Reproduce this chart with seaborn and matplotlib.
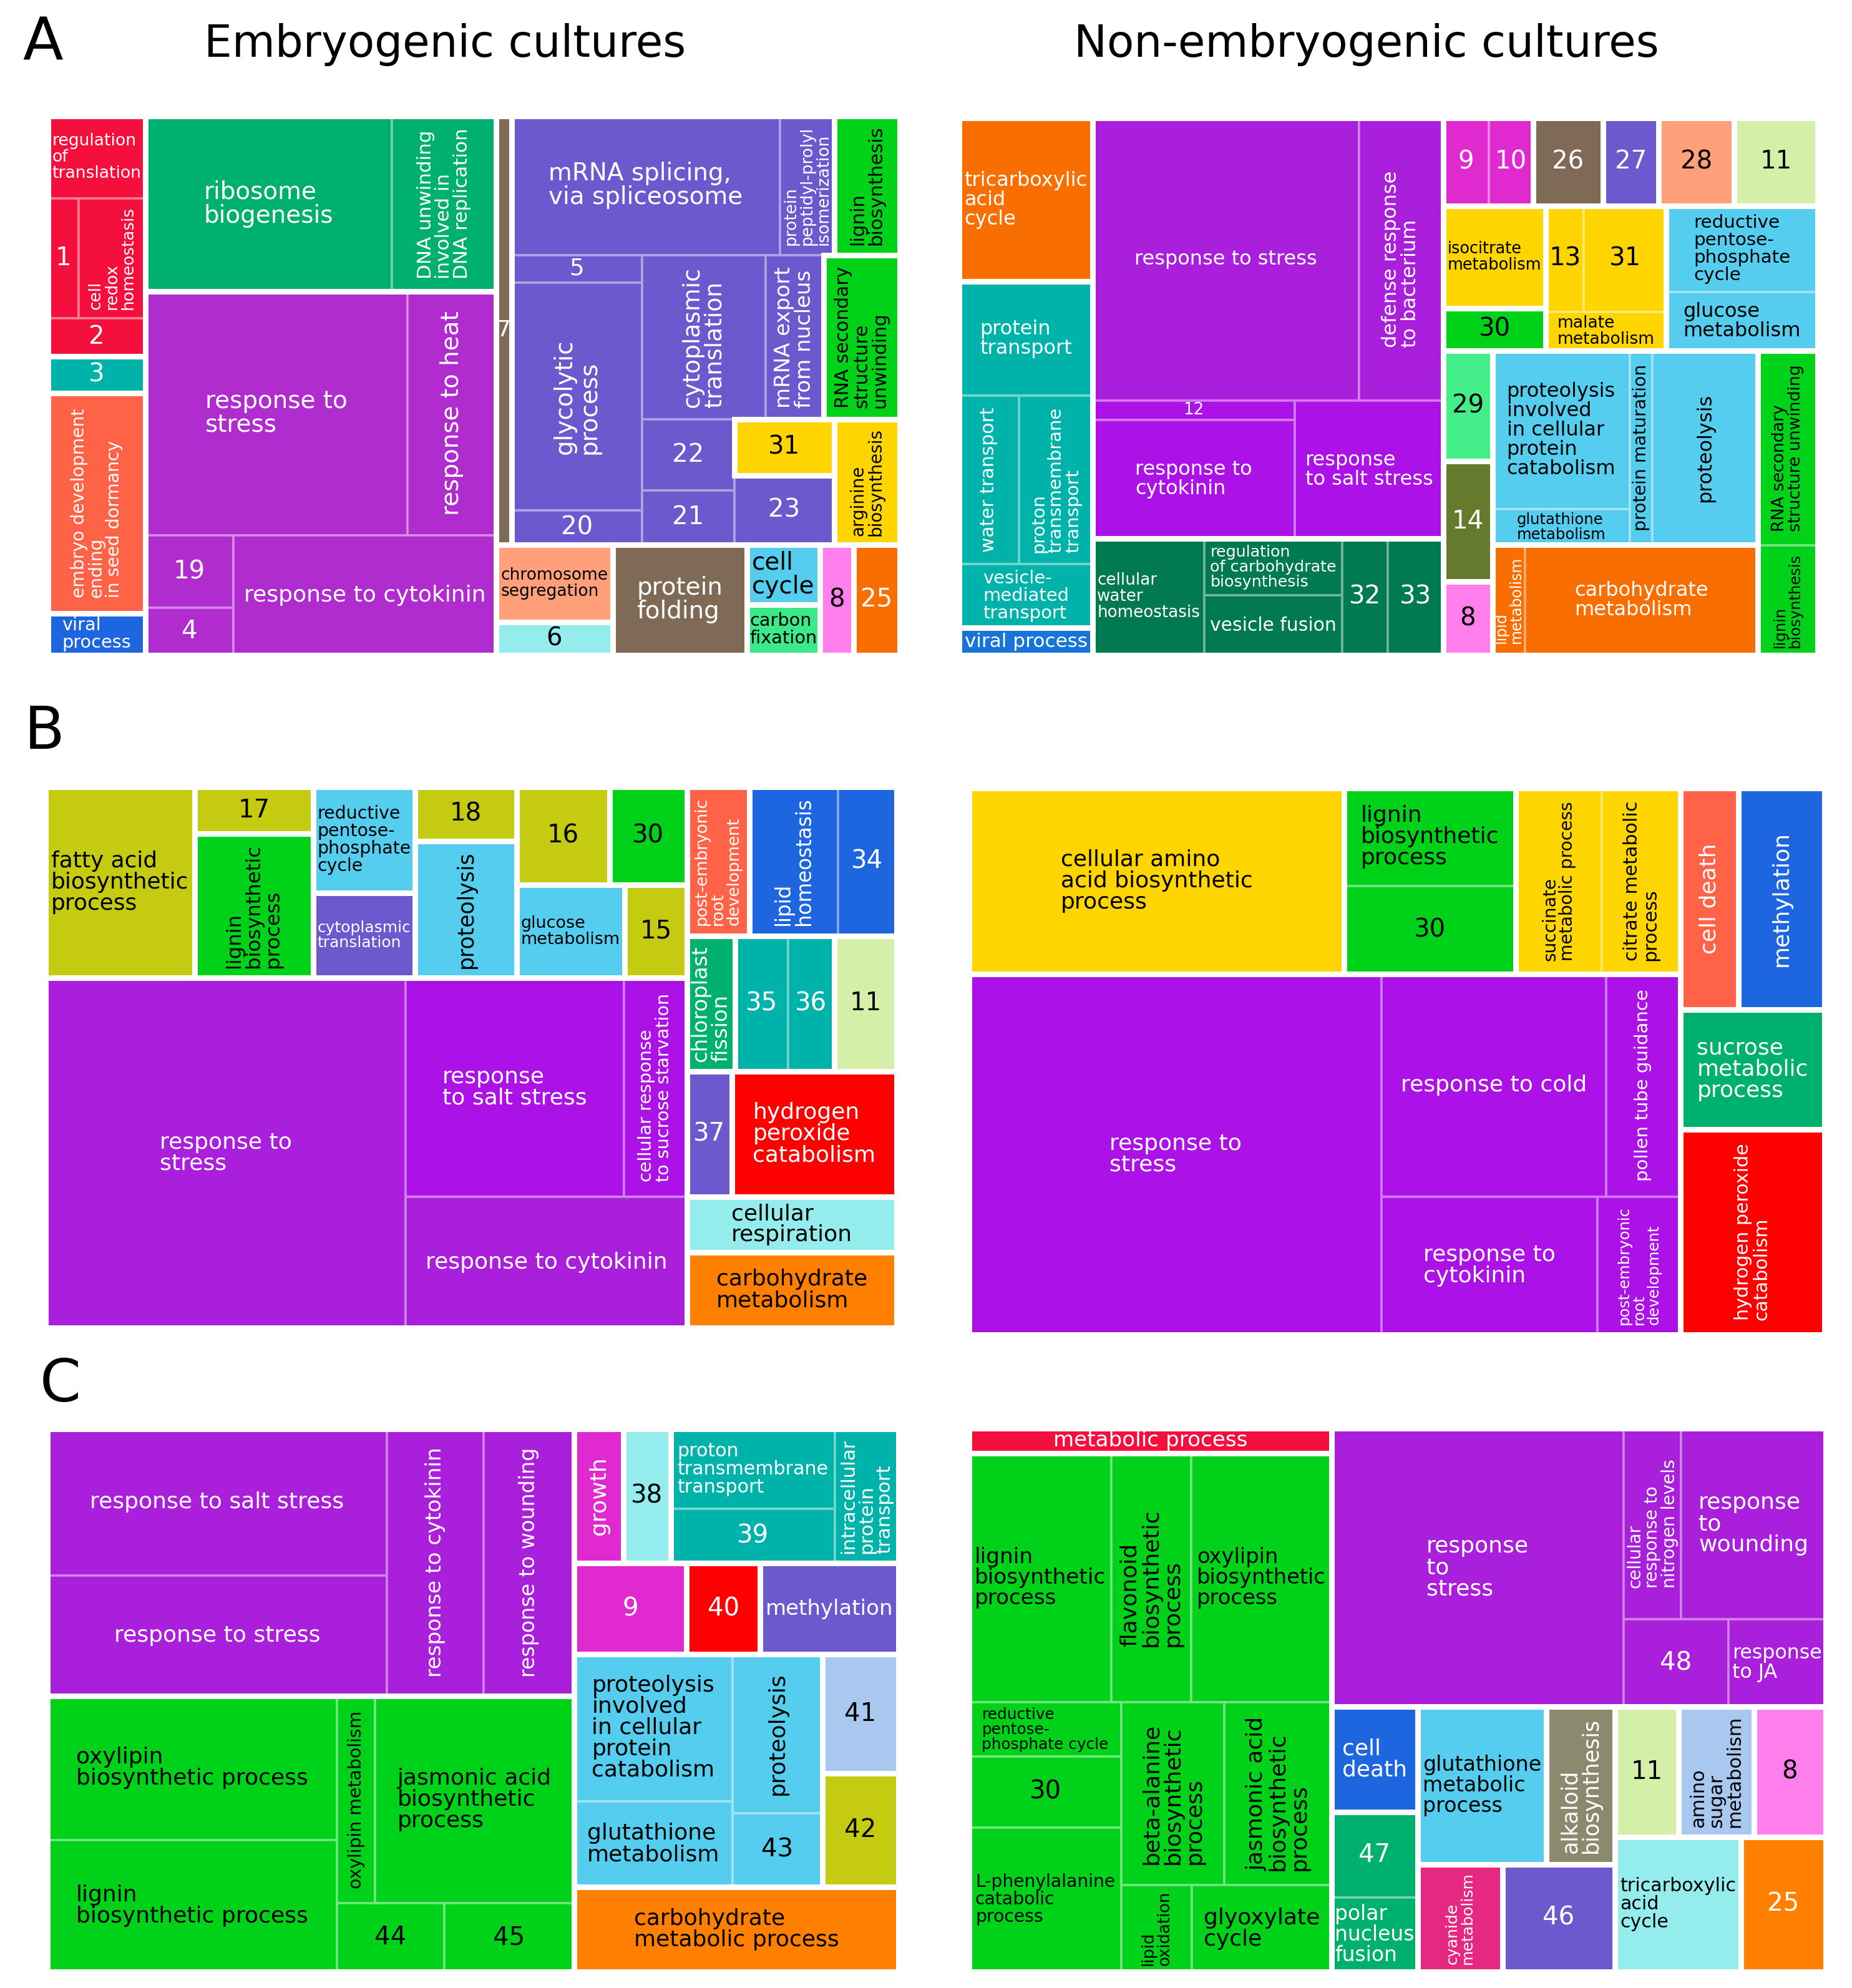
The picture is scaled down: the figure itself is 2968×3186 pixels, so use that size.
import matplotlib
matplotlib.use("Agg")
import matplotlib.pyplot as plt
from matplotlib.patches import Rectangle
from matplotlib.colors import to_rgb
import seaborn as sns

sns.set_theme(style="white")
plt.rcParams["font.family"] = ["DejaVu Sans"]

# ---------------- colours ----------------
RED = "#F50F3C"; TEAL = "#00B3AA"; TOMATO = "#FF6347"; BLUE = "#1E66E0"
SEAGREEN = "#00B06E"; PURPLE1 = "#B02CCE"; PURPLE2 = "#A91FDB"; PURPLE3 = "#AC12E8"
BROWN = "#7F6A55"; SLATE = "#6E58CE"; GREEN = "#00D21A"; YELLOW = "#FFD500"
SALMON = "#FFA07A"; CYAN = "#95ECEC"; LBLUE = "#55CDEE"; MINT = "#3BE88A"
PINK = "#FF80EC"; ORANGE = "#F86E00"; ORANGE2 = "#FF7F00"; DKGREEN = "#007A4E"
MAGENTA = "#E02AD0"; LGREEN = "#D4F0A8"; MINT2 = "#44EE88"; OLIVEDK = "#667A2E"
OLIVE = "#C4CB10"; PURE_RED = "#FF0000"; STEEL = "#A8C8F0"; GREYOL = "#8B8A6F"
CERISE = "#E52882"; VIRAL = "#1874D8"


def H(*c):
    return ("H", c)


def V(*c):
    return ("V", c)


def G(c):
    return ("G", c)


# ---------------- Panel A, embryogenic ----------------
A1_terms = ["regulation\nof\ntranslation", "1", "cell\nredox\nhomeostasis", "2", "3",
            "embryo development\nending\nin seed dormancy", "viral\nprocess",
            "ribosome\nbiogenesis", "DNA unwinding\ninvolved in\nDNA replication",
            "response to\nstress", "response to heat", "19", "4", "response to cytokinin",
            "7", "mRNA splicing,\nvia spliceosome", "protein\npeptidyl-prolyl\nisomerization",
            "lignin\nbiosynthesis", "5", "glycolytic\nprocess", "20", "cytoplasmic\ntranslation",
            "mRNA export\nfrom nucleus", "RNA secondary\nstructure\nunwinding", "22", "21", "31",
            "23", "arginine\nbiosynthesis", "chromosome\nsegregation", "6", "protein\nfolding",
            "cell\ncycle", "carbon\nfixation", "8", "25"]
A1_sizes = [20.6, 9.4, 20.5, 9.5, 9.2, 55.1, 10.5, 111.0, 46.9, 164.2, 55.5, 16.4, 10.7, 80.8,
            17.2, 95.9, 19.4, 23.4, 9.2, 76.3, 11.5, 52.1, 24.5, 32.1, 16.9, 12.9, 14.4, 17.8,
            21.1, 23.2, 9.9, 38.1, 11.2, 9.5, 9.6, 13.1]
A1_colors = [RED, RED, RED, RED, TEAL, TOMATO, BLUE, SEAGREEN, SEAGREEN, PURPLE1, PURPLE1,
             PURPLE1, PURPLE1, PURPLE1, BROWN, SLATE, SLATE, GREEN, SLATE, SLATE, SLATE, SLATE,
             SLATE, GREEN, SLATE, SLATE, YELLOW, SLATE, YELLOW, SALMON, CYAN, BROWN, LBLUE,
             MINT, PINK, ORANGE]
A1_tree = H(
    V(G(V(0, H(1, 2), 3)), G(4), G(5), G(6)),
    V(G(H(7, 8)), G(V(H(9, 10), H(V(11, 12), 13)))),
    V(H(G(14), V(H(15, 16, G(17)),
                 H(V(18, 19, 20),
                   V(H(21, 22, G(23)), H(V(24, 25), V(G(26), 27), G(28)))))),
      H(V(G(29), G(30)), G(31), V(G(32), G(33)), G(34), G(35))))
A1_vertical = {2, 5, 8, 10, 16, 17, 19, 21, 22, 23, 28}

# ---------------- Panel A, non-embryogenic ----------------
A2_terms = ["tricarboxylic\nacid\ncycle", "protein\ntransport", "water transport",
            "proton\ntransmembrane\ntransport", "vesicle-\nmediated\ntransport", "viral process",
            "response to stress", "defense response\nto bacterium", "12", "response to\ncytokinin",
            "response\nto salt stress", "cellular\nwater\nhomeostasis",
            "regulation\nof carbohydrate\nbiosynthesis", "vesicle fusion", "32", "33",
            "9", "10", "26", "27", "28", "11", "isocitrate\nmetabolism", "30", "13", "31",
            "malate\nmetabolism", "reductive\npentose-\nphosphate\ncycle", "glucose\nmetabolism",
            "29", "14", "8", "proteolysis\ninvolved\nin cellular\nprotein\ncatabolism",
            "glutathione\nmetabolism", "protein maturation", "proteolysis", "lipid\nmetabolism",
            "carbohydrate\nmetabolism", "RNA secondary\nstructure unwinding", "lignin\nbiosynthesis"]
A2_sizes = [56.1, 39.2, 25.9, 31.9, 21.8, 9.4, 193.4, 61.2, 10.0, 61.6, 52.6, 33.5, 20.1, 21.2,
            13.7, 16.6, 10.3, 10.0, 15.8, 12.5, 17.1, 18.9, 26.9, 11.2, 10.4, 22.4, 12.0, 33.5,
            22.8, 14.0, 15.2, 9.3, 55.9, 12.5, 11.2, 52.6, 9.2, 66.0, 30.0, 16.9]
A2_colors = [ORANGE, TEAL, TEAL, TEAL, TEAL, VIRAL, PURPLE2, PURPLE2, PURPLE3, PURPLE3, PURPLE3,
             DKGREEN, DKGREEN, DKGREEN, DKGREEN, DKGREEN, MAGENTA, MAGENTA, BROWN, SLATE, SALMON,
             LGREEN, YELLOW, GREEN, YELLOW, YELLOW, YELLOW, LBLUE, LBLUE, MINT2, OLIVEDK, PINK,
             LBLUE, LBLUE, LBLUE, LBLUE, ORANGE, ORANGE, GREEN, GREEN]
A2_tree = H(
    V(G(0), G(V(1, H(2, 3), 4)), G(5)),
    V(G(V(H(6, 7), H(V(8, 9), 10))), G(H(11, V(12, 13), 14, 15))),
    V(H(G(H(16, 17)), G(18), G(19), G(20), G(21)),
      H(V(G(22), G(23)), G(V(H(24, 25), 26)), G(V(27, 28))),
      H(V(G(29), G(30), G(31)),
        V(G(H(V(32, 33), 34, 35)), G(H(36, 37))),
        G(V(38, 39)))))
A2_vertical = {2, 3, 7, 34, 35, 36, 38, 39}

# ---------------- Panel B, left ----------------
B1_terms = ["fatty acid\nbiosynthetic\nprocess", "17", "lignin\nbiosynthetic\nprocess",
            "reductive\npentose-\nphosphate\ncycle", "cytoplasmic\ntranslation", "18",
            "proteolysis", "16", "30", "glucose\nmetabolism", "15", "response to\nstress",
            "response\nto salt stress", "cellular response\nto sucrose starvation",
            "response to cytokinin", "post-embryonic\nroot\ndevelopment", "lipid\nhomeostasis",
            "34", "chloroplast\nfission", "35", "36", "11", "37",
            "hydrogen\nperoxide\ncatabolism", "cellular\nrespiration", "carbohydrate\nmetabolism"]
B1_sizes = [73.1, 14.3, 43.9, 27.7, 22.2, 14.2, 35.7, 23.4, 19.5, 25.8, 14.9, 323.7, 122.9,
            35.5, 94.7, 23.9, 33.9, 22.5, 16.7, 18.4, 16.1, 21.7, 14.5, 53.1, 29.9, 40.7]
B1_colors = [OLIVE, OLIVE, GREEN, LBLUE, SLATE, OLIVE, LBLUE, OLIVE, GREEN, LBLUE, OLIVE,
             PURPLE2, PURPLE3, PURPLE3, PURPLE2, TOMATO, BLUE, BLUE, SEAGREEN, TEAL, TEAL,
             LGREEN, SLATE, PURE_RED, CYAN, ORANGE2]
B1_tree = H(
    V(H(G(0), V(G(1), G(2)), V(G(3), G(4)), V(G(5), G(6)),
        V(H(G(7), G(8)), H(G(9), G(10)))),
      G(H(11, V(H(12, 13), 14)))),
    V(H(G(15), G(H(16, 17))), H(G(18), G(H(19, 20)), G(21)), H(G(22), G(23)), G(24), G(25)))
B1_vertical = {2, 6, 13, 15, 16, 18}

# ---------------- Panel B, right ----------------
B2_terms = ["cellular amino\nacid biosynthetic\nprocess", "lignin\nbiosynthetic\nprocess", "30",
            "succinate\nmetabolic process", "citrate metabolic\nprocess", "response to\nstress",
            "response to cold", "pollen tube guidance", "response to\ncytokinin",
            "post-embryonic\nroot\ndevelopment", "cell death", "methylation",
            "sucrose\nmetabolic\nprocess", "hydrogen peroxide\ncatabolism"]
B2_sizes = [179.1, 43.2, 38.8, 41.1, 37.5, 382.1, 128.5, 42.5, 76.5, 29.4, 33.0, 49.0, 44.4, 76.0]
B2_colors = [YELLOW, GREEN, GREEN, YELLOW, YELLOW, PURPLE3, PURPLE3, PURPLE3, PURPLE3, PURPLE3,
             TOMATO, BLUE, SEAGREEN, PURE_RED]
B2_tree = H(
    V(H(G(0), G(V(1, 2)), G(H(3, 4))), G(H(5, V(H(6, 7), H(8, 9))))),
    V(H(G(10), G(11)), G(12), G(13)))
B2_vertical = {3, 4, 7, 9, 10, 11, 13}

# ---------------- Panel C, left ----------------
C1_terms = ["response to salt stress", "response to stress", "response to cytokinin",
            "response to wounding", "oxylipin\nbiosynthetic process",
            "lignin\nbiosynthetic process", "oxylipin metabolism",
            "jasmonic acid\nbiosynthetic\nprocess", "44", "45", "growth", "38",
            "proton\ntransmembrane\ntransport", "39", "intracellular\nprotein\ntransport",
            "9", "40", "methylation", "proteolysis\ninvolved\nin cellular\nprotein\ncatabolism",
            "glutathione\nmetabolism", "proteolysis", "43", "41", "42",
            "carbohydrate\nmetabolic process"]
C1_sizes = [127.8, 105.0, 66.3, 62.1, 107.2, 97.9, 20.3, 105.9, 18.9, 22.9, 17.0, 16.3, 33.7,
            22.9, 21.9, 26.3, 17.2, 32.4, 59.9, 34.8, 36.7, 17.0, 23.3, 22.2, 70.7]
C1_colors = [PURPLE2, PURPLE2, PURPLE2, PURPLE2, GREEN, GREEN, GREEN, GREEN, GREEN, GREEN,
             MAGENTA, CYAN, TEAL, TEAL, TEAL, MAGENTA, PURE_RED, SLATE, LBLUE, LBLUE, LBLUE,
             LBLUE, STEEL, OLIVE, ORANGE2]
C1_tree = H(
    V(G(H(V(0, 1), 2, 3)), G(H(V(4, 5), V(H(6, 7), H(8, 9))))),
    V(H(G(10), G(11), G(H(V(12, 13), 14))),
      H(G(15), G(16), G(17)),
      H(G(H(V(18, 19), V(20, 21))), V(G(22), G(23))),
      G(24)))
C1_vertical = {2, 3, 6, 10, 14, 20}

# ---------------- Panel C, right ----------------
C2_terms = ["metabolic process", "lignin\nbiosynthetic\nprocess",
            "flavonoid\nbiosynthetic\nprocess", "oxylipin\nbiosynthetic\nprocess",
            "reductive\npentose-\nphosphate cycle", "30", "L-phenylalanine\ncatabolic\nprocess",
            "beta-alanine\nbiosynthetic\nprocess", "jasmonic acid\nbiosynthetic\nprocess",
            "lipid\noxidation", "glyoxylate\ncycle", "response\nto\nstress",
            "cellular\nresponse to\nnitrogen levels", "response\nto\nwounding", "48",
            "response\nto JA", "cell\ndeath", "47", "polar\nnucleus\nfusion",
            "glutathione\nmetabolic\nprocess", "alkaloid\nbiosynthesis", "cyanide\nmetabolism",
            "46", "11", "amino\nsugar\nmetabolism", "8", "tricarboxylic\nacid\ncycle", "25"]
C2_sizes = [23.2, 91.0, 51.1, 89.8, 21.2, 27.8, 56.4, 48.3, 50.4, 15.7, 31.1, 208.7, 28.2,
            71.0, 23.5, 21.8, 23.3, 18.9, 16.4, 52.1, 27.8, 23.4, 31.0, 21.3, 25.3, 24.0,
            43.6, 29.4]
C2_colors = [RED, GREEN, GREEN, GREEN, GREEN, GREEN, GREEN, GREEN, GREEN, GREEN, GREEN,
             PURPLE2, PURPLE2, PURPLE2, PURPLE2, PURPLE2, BLUE, SEAGREEN, SEAGREEN, LBLUE,
             GREYOL, CERISE, SLATE, LGREEN, STEEL, PINK, CYAN, ORANGE2]
C2_tree = H(
    V(G(0), G(V(H(1, 2, 3), H(V(4, 5, 6), V(H(7, 8), H(9, 10)))))),
    V(G(H(11, V(H(12, 13), H(14, 15)))),
      H(V(G(16), G(V(17, 18))),
        V(H(G(19), G(20)), H(G(21), G(22))),
        V(H(G(23), G(24), G(25)), H(G(26), G(27))))))
C2_vertical = {2, 7, 8, 9, 12, 20, 21, 24}
C2_light_text = {27}

# ---------------- drawing ----------------
FIG_W, FIG_H, DPI = 2968, 3186, 200
fig = plt.figure(figsize=(FIG_W / DPI, FIG_H / DPI), dpi=DPI)
fig.patch.set_facecolor("white")


def total(node, sizes):
    if isinstance(node, int):
        return sizes[node]
    kind, ch = node
    if kind == "G":
        return total(ch, sizes)
    return sum(total(c, sizes) for c in ch)


def place(node, sizes, x0, y0, x1, y1, leaves, groups):
    if isinstance(node, int):
        leaves.append((node, x0, y0, x1, y1))
        return
    kind, ch = node
    if kind == "G":
        groups.append((x0, y0, x1, y1))
        place(ch, sizes, x0, y0, x1, y1, leaves, groups)
        return
    tot = sum(total(c, sizes) for c in ch)
    pos = x0 if kind == "H" else y0
    for c in ch:
        f = total(c, sizes) / tot
        if kind == "H":
            nx = pos + f * (x1 - x0)
            place(c, sizes, pos, y0, nx, y1, leaves, groups)
            pos = nx
        else:
            ny = pos + f * (y1 - y0)
            place(c, sizes, x0, pos, x1, ny, leaves, groups)
            pos = ny


def tint(c, a=0.45):
    r, g, b = to_rgb(c)
    return (r + (1 - r) * a, g + (1 - g) * a, b + (1 - b) * a)


def lum(c):
    def lin(v):
        return v / 12.92 if v <= 0.04045 else ((v + 0.055) / 1.055) ** 2.4
    r, g, b = to_rgb(c)
    return 0.2126 * lin(r) + 0.7152 * lin(g) + 0.0722 * lin(b)


pending = []


def draw_panel(px, terms, sizes, colors, tree, vertical, cap, light_text=()):
    x0p, y0p, x1p, y1p = px
    rect = [x0p / FIG_W, 1 - y1p / FIG_H, (x1p - x0p) / FIG_W, (y1p - y0p) / FIG_H]
    ax = fig.add_axes(rect)
    ax.set_xlim(0, 1)
    ax.set_ylim(1, 0)
    ax.axis("off")
    leaves, groups = [], []
    place(tree, sizes, 0, 0, 1, 1, leaves, groups)
    axw, axh = x1p - x0p, y1p - y0p
    for i, a0, b0, a1, b1 in leaves:
        c = colors[i]
        ax.add_patch(Rectangle((a0, b0), a1 - a0, b1 - b0, facecolor=c,
                               edgecolor=tint(c), lw=1.3))
    for a0, b0, a1, b1 in groups:
        ax.add_patch(Rectangle((a0, b0), a1 - a0, b1 - b0, fill=False,
                               edgecolor="white", lw=3.2))
    ax.add_patch(Rectangle((0, 0), 1, 1, fill=False, edgecolor="white", lw=3.2))
    for i, a0, b0, a1, b1 in leaves:
        c = colors[i]
        tc = "white" if (lum(c) < 0.355 or i in light_text) else "black"
        t = ax.text((a0 + a1) / 2, (b0 + b1) / 2, terms[i],
                    rotation=90 if i in vertical else 0,
                    ha="center", va="center", multialignment="left",
                    fontsize=10, color=tc, linespacing=1.0)
        mx = 14.5 if terms[i].isdigit() else cap
        pending.append((t, (a1 - a0) * axw, (b1 - b0) * axh, mx))


draw_panel((77, 186, 1442, 1050), A1_terms, A1_sizes, A1_colors, A1_tree, A1_vertical, 14)
draw_panel((1537, 189, 2913, 1050), A2_terms, A2_sizes, A2_colors, A2_tree, A2_vertical, 11.5)
draw_panel((73, 1261, 1437, 2128), B1_terms, B1_sizes, B1_colors, B1_tree, B1_vertical, 13)
draw_panel((1553, 1263, 2924, 2139), B2_terms, B2_sizes, B2_colors, B2_tree, B2_vertical, 13)
draw_panel((76, 2290, 1440, 3160), C1_terms, C1_sizes, C1_colors, C1_tree, C1_vertical, 13)
draw_panel((1553, 2289, 2926, 3160), C2_terms, C2_sizes, C2_colors, C2_tree, C2_vertical, 13,
           C2_light_text)

# fit label sizes to their cells
renderer = fig.canvas.get_renderer()
for t, wpx, hpx, mx in pending:
    bb = t.get_window_extent(renderer)
    s = min(0.92 * wpx / bb.width, 0.86 * hpx / bb.height)
    t.set_fontsize(max(3, min(mx, 10 * s)))


def ftext(x, y, s, size, **kw):
    fig.text(x / FIG_W, 1 - y / FIG_H, s, fontsize=size, ha="center", va="center",
             color="black", **kw)


ftext(69, 71, "A", 34)
ftext(71, 1174, "B", 34)
ftext(97, 2220, "C", 34)
ftext(713, 71, "Embryogenic cultures", 25.5)
ftext(2190, 71, "Non-embryogenic cultures", 25.5)

fig.savefig("out.png", dpi=DPI)
